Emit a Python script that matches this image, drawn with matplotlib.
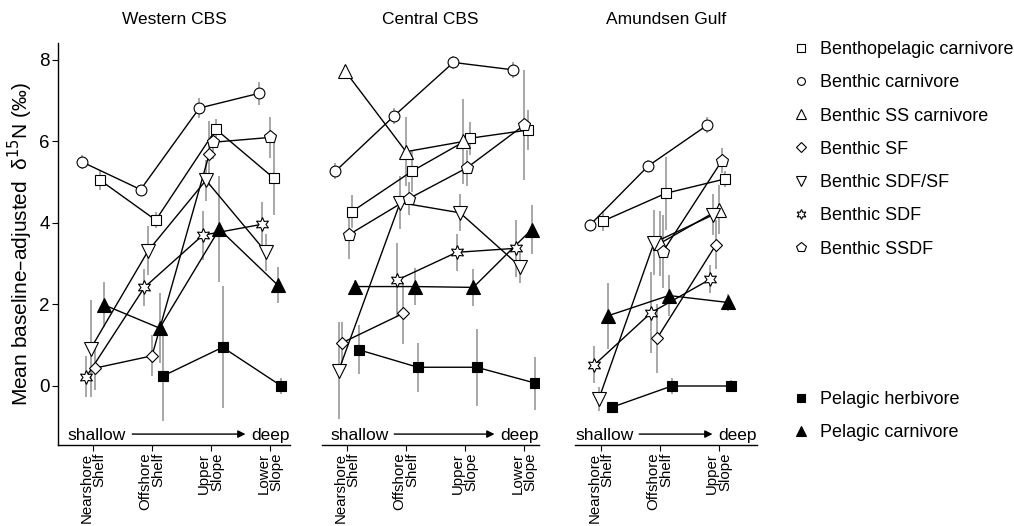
import numpy as np
import matplotlib.pyplot as plt
from matplotlib.lines import Line2D

plt.rcParams['font.family'] = ['Liberation Sans', 'DejaVu Sans']

nan = np.nan

# data
regions = ['Western CBS', 'Central CBS', 'Amundsen Gulf']
sites = ['Nearshore\nShelf', 'Offshore\nShelf', 'Upper\nSlope', 'Lower\nSlope']
groups = ['Benthopelagic carnivore', 'Benthic carnivore', 'Benthic SS carnivore',
          'Benthic SF', 'Benthic SDF/SF', 'Benthic SDF', 'Benthic SSDF',
          'Pelagic herbivore', 'Pelagic carnivore']

west_mean = {
    'Benthopelagic carnivore': [5.06, 4.07, 6.30, 5.10],
    'Benthic carnivore':       [5.50, 4.82, 6.82, 7.18],
    'Benthic SS carnivore':    [nan, nan, nan, nan],
    'Benthic SF':              [0.44, 0.74, 5.70, nan],
    'Benthic SDF/SF':          [0.92, 3.32, 5.05, 3.28],
    'Benthic SDF':             [0.23, 2.42, 3.70, 3.97],
    'Benthic SSDF':            [nan, nan, 5.98, 6.10],
    'Pelagic herbivore':       [nan, 0.25, 0.95, 0.00],
    'Pelagic carnivore':       [1.99, 1.42, 3.85, 2.48],
}
west_sd = {
    'Benthopelagic carnivore': [0.25, 0.20, 0.25, 0.90],
    'Benthic carnivore':       [0.18, 0.12, 0.25, 0.28],
    'Benthic SS carnivore':    [nan, nan, nan, nan],
    'Benthic SF':              [0.55, 0.50, 0.80, nan],
    'Benthic SDF/SF':          [1.20, 0.60, 0.50, 0.45],
    'Benthic SDF':             [0.50, 0.45, 0.60, 0.55],
    'Benthic SSDF':            [nan, nan, 0.40, 0.50],
    'Pelagic herbivore':       [nan, 1.10, 1.50, 0.20],
    'Pelagic carnivore':       [0.55, 0.85, 1.30, 0.45],
}

central_mean = {
    'Benthopelagic carnivore': [4.28, 5.27, 6.08, 6.28],
    'Benthic carnivore':       [5.27, 6.63, 7.94, 7.76],
    'Benthic SS carnivore':    [7.72, 5.75, 6.00, nan],
    'Benthic SF':              [1.06, 1.78, nan, nan],
    'Benthic SDF/SF':          [0.38, 4.50, 4.25, 2.93],
    'Benthic SDF':             [nan, 2.60, 3.28, 3.38],
    'Benthic SSDF':            [3.71, 4.60, 5.35, 6.40],
    'Pelagic herbivore':       [0.89, 0.46, 0.46, 0.07],
    'Pelagic carnivore':       [2.44, 2.44, 2.42, 3.84],
}
central_sd = {
    'Benthopelagic carnivore': [0.40, 0.50, 0.40, 0.50],
    'Benthic carnivore':       [0.20, 0.20, 0.15, 0.20],
    'Benthic SS carnivore':    [0.15, 0.85, 1.05, nan],
    'Benthic SF':              [0.50, 0.75, nan, nan],
    'Benthic SDF/SF':          [1.20, 0.65, 0.45, 0.40],
    'Benthic SDF':             [nan, 0.90, 0.45, 0.70],
    'Benthic SSDF':            [0.60, 0.40, 0.45, 1.35],
    'Pelagic herbivore':       [0.60, 0.60, 0.95, 0.65],
    'Pelagic carnivore':       [0.15, 0.45, 0.45, 0.60],
}

amundsen_mean = {
    'Benthopelagic carnivore': [4.05, 4.73, 5.08],
    'Benthic carnivore':       [3.95, 5.40, 6.40],
    'Benthic SS carnivore':    [nan, 3.50, 4.33],
    'Benthic SF':              [nan, 1.17, 3.47],
    'Benthic SDF/SF':          [-0.32, 3.52, 4.20],
    'Benthic SDF':             [0.52, 1.80, 2.62],
    'Benthic SSDF':            [nan, 3.30, 5.53],
    'Pelagic herbivore':       [-0.52, 0.00, 0.00],
    'Pelagic carnivore':       [1.72, 2.22, 2.05],
}
amundsen_sd = {
    'Benthopelagic carnivore': [0.25, 0.90, 0.20],
    'Benthic carnivore':       [0.15, 0.15, 0.20],
    'Benthic SS carnivore':    [nan, 0.80, 0.60],
    'Benthic SF':              [nan, 0.85, 0.60],
    'Benthic SDF/SF':          [0.30, 0.80, 0.50],
    'Benthic SDF':             [0.45, 1.00, 0.35],
    'Benthic SSDF':            [nan, 0.90, 0.30],
    'Pelagic herbivore':       [0.10, 0.20, 0.15],
    'Pelagic carnivore':       [0.80, 0.50, 0.20],
}

means = [west_mean, central_mean, amundsen_mean]
sds = [west_sd, central_sd, amundsen_sd]

# marker styles (marker, size, face)
style = {
    'Benthopelagic carnivore': ('s', 7.5, 'white'),
    'Benthic carnivore':       ('o', 7.8, 'white'),
    'Benthic SS carnivore':    ('^', 9.5, 'white'),
    'Benthic SF':              ('D', 6.5, 'white'),
    'Benthic SDF/SF':          ('v', 9.5, 'white'),
    'Benthic SDF':             ((6, 1, 0), 10, 'white'),
    'Benthic SSDF':            ('p', 9.5, 'white'),
    'Pelagic herbivore':       ('s', 7.5, 'black'),
    'Pelagic carnivore':       ('^', 9.5, 'black'),
}

W, H = 1014, 526
fig = plt.figure(figsize=(W / 100, H / 100), dpi=100)

# panel pixel extents (left, right) and x limits
panels = [(58, 290, 0.407, 4.339), (322, 539, 0.576, 4.254), (575, 757, 0.559, 3.644)]
top, bot = 43, 445
dodge = 0.45
axes = []
for k, region in enumerate(regions):
    x0, x1, xl, xr = panels[k]
    ax = fig.add_axes([x0 / W, 1 - bot / H, (x1 - x0) / W, (bot - top) / H])
    axes.append(ax)
    m = {g: np.array(means[k][g], dtype=float) for g in groups}
    s = {g: np.array(sds[k][g], dtype=float) for g in groups}
    nsite = len(m[groups[0]])
    # dodge the groups present at each site, alphabetical order
    xs = {g: np.full(nsite, nan) for g in groups}
    for j in range(nsite):
        present = sorted([g for g in groups if not np.isnan(m[g][j])], key=str.lower)
        n = len(present)
        for i, g in enumerate(present):
            xs[g][j] = j + 1 + (i - (n - 1) / 2) * dodge / n

    for g in groups:
        ok = ~np.isnan(m[g])
        ax.vlines(xs[g][ok], (m[g] - s[g])[ok], (m[g] + s[g])[ok],
                  color='#a0a0a0', lw=1.3, zorder=1)
    for g in groups:
        ok = ~np.isnan(m[g])
        ax.plot(xs[g][ok], m[g][ok], color='black', lw=1.0, zorder=2)
    for g in groups:
        ok = ~np.isnan(m[g])
        mk, ms, fc = style[g]
        ax.plot(xs[g][ok], m[g][ok], ls='none', marker=mk, ms=ms,
                mfc=fc, mec='black', mew=0.8, zorder=3)

    ax.set_xlim(xl, xr)
    ax.set_ylim(-1.448, 8.417)
    ax.set_xticks(range(1, nsite + 1))
    ax.set_xticklabels(sites[:nsite], rotation=90, fontsize=10.8,
                       linespacing=0.95, multialignment='right')
    ax.spines['top'].set_visible(False)
    ax.spines['right'].set_visible(False)
    ax.spines['bottom'].set_linewidth(1.0)
    ax.tick_params(axis='x', length=4, width=0.8, pad=1.5)
    if k == 0:
        ax.set_yticks([0, 2, 4, 6, 8])
        ax.tick_params(axis='y', length=4, width=0.8, pad=2, labelsize=13.5)
        ax.spines['left'].set_linewidth(1.0)
        ax.set_ylabel('Mean baseline\u2013adjusted  \u03b4$^{15}$N (\u2030)',
                      fontsize=15, labelpad=3)
    else:
        ax.spines['left'].set_visible(False)
        ax.set_yticks([])
    ax.set_title(region, fontsize=12.5, pad=14)
    ax.patch.set_alpha(0)

# shallow -> deep annotations
shallow_x = [0.043, 0.037, 0.0]
labels_txt = []
for k, ax in enumerate(axes):
    tr = ax.get_yaxis_transform()  # x in axes, y in data
    t1 = ax.text(shallow_x[k], -1.325, 'shallow', transform=tr,
                 fontsize=12.5, ha='left', va='baseline')
    t2 = ax.text(1.0, -1.325, 'deep', transform=tr,
                 fontsize=12.5, ha='right', va='baseline')
    labels_txt.append((t1, t2))

fig.canvas.draw()
r = fig.canvas.get_renderer()
for ax, (t1, t2) in zip(axes, labels_txt):
    b1 = t1.get_window_extent(r)
    b2 = t2.get_window_extent(r)
    yarr = ax.transData.transform((1, -1.18))[1]
    ax.annotate('', xy=(b2.x0 - 6, yarr), xytext=(b1.x1 + 6, yarr),
                xycoords='figure pixels', textcoords='figure pixels',
                arrowprops=dict(arrowstyle='-|>', color='black', lw=1.0,
                                mutation_scale=11, shrinkA=0, shrinkB=0))

# legends
handles = []
for g in groups:
    mk, ms, fc = style[g]
    handles.append(Line2D([], [], ls='none', marker=mk, ms=ms * 0.72,
                          mfc=fc, mec='black', mew=0.8))
leg1 = fig.legend(handles[:7], groups[:7], loc='upper left',
                  bbox_to_anchor=(792 / W, 1 - 41 / H), frameon=False, fontsize=13,
                  handlelength=1.0, handletextpad=0.55, labelspacing=0.9,
                  borderaxespad=0, borderpad=0)
leg2 = fig.legend(handles[7:], groups[7:], loc='upper left',
                  bbox_to_anchor=(792 / W, 1 - 391 / H), frameon=False, fontsize=13,
                  handlelength=1.0, handletextpad=0.55, labelspacing=0.9,
                  borderaxespad=0, borderpad=0)

fig.savefig('out.png', dpi=100)
